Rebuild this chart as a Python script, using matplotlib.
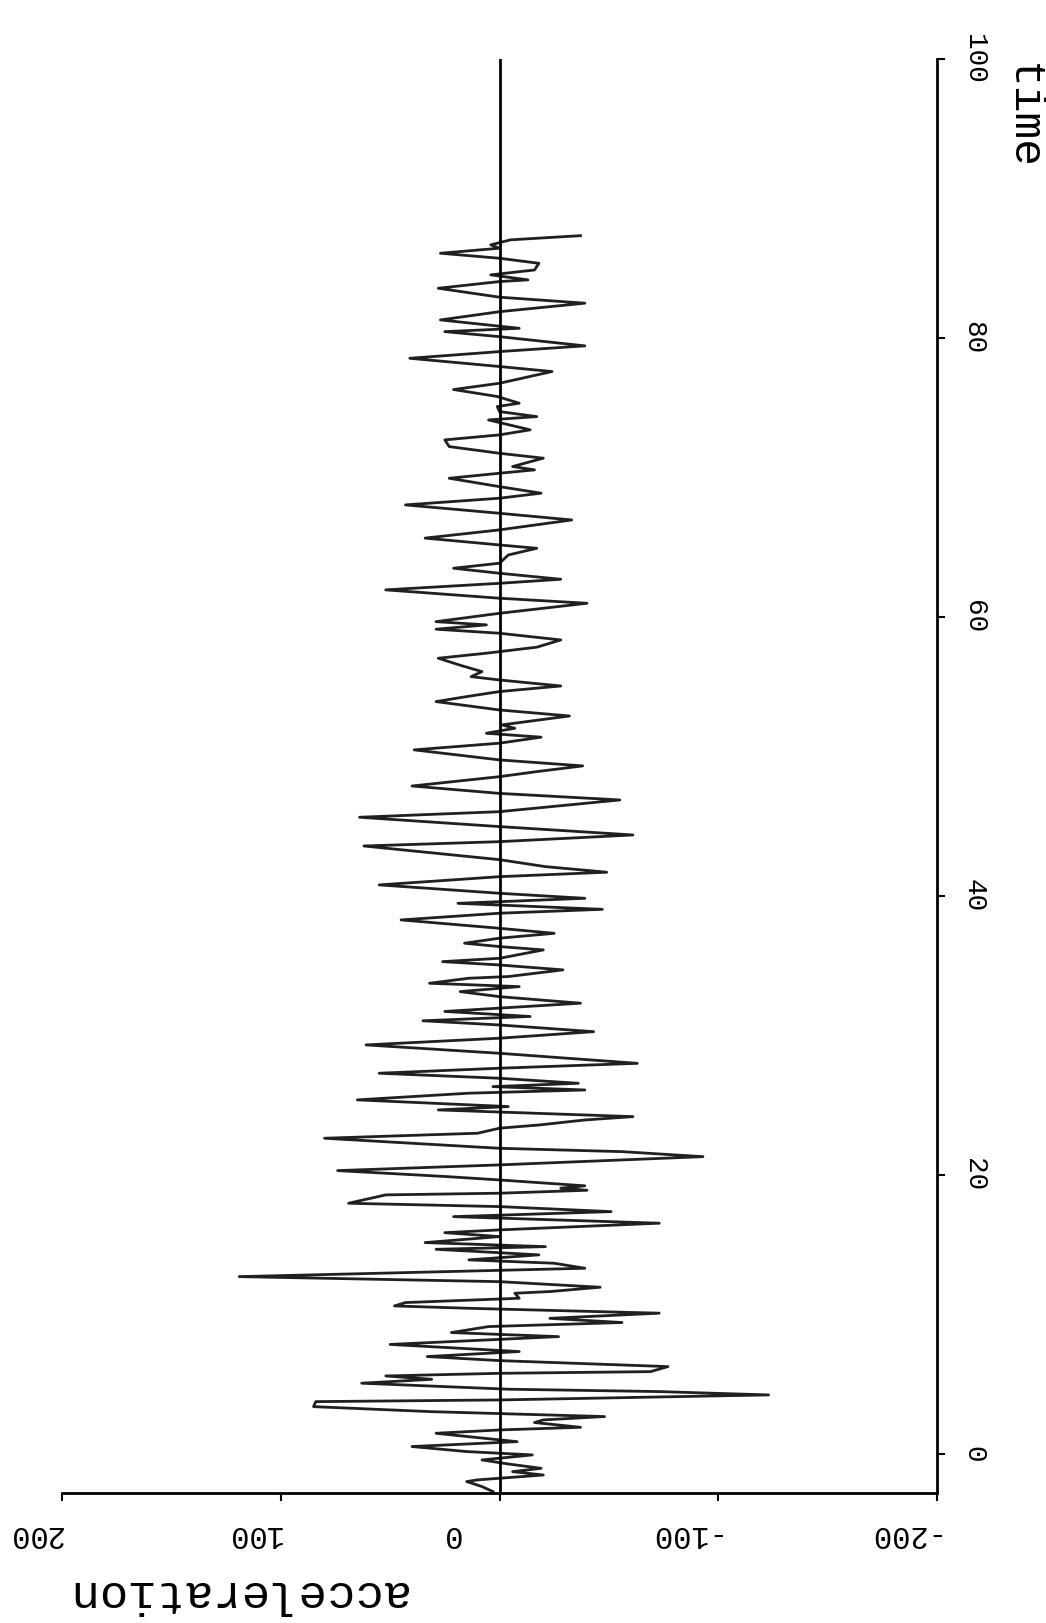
import matplotlib
matplotlib.use("Agg")
import matplotlib.pyplot as plt

# przebieg przyspieszenia (kolejne ekstrema)
time = [-2.70, -2.34, -1.98, -1.86, -1.51, -1.27, -1.03, -0.72, -0.43, -0.07,
        0.17, 0.53, 0.88, 1.24, 1.48, 1.72, 1.91, 2.25, 2.44, 2.68,
        3.03, 3.39, 3.75, 3.87, 4.23, 4.47, 4.64, 5.07, 5.35, 5.59,
        5.78, 5.90, 6.26, 6.69, 6.98, 7.34, 7.85, 8.41, 8.70, 9.13,
        9.42, 9.72, 10.09, 10.44, 10.61, 10.85, 11.16, 11.52, 11.64, 11.95,
        12.35, 12.71, 13.07, 13.31, 13.67, 13.91, 14.27, 14.67, 14.86, 15.15,
        15.58, 15.86, 16.06, 16.54, 17.01, 17.37, 17.73, 17.97, 18.57, 18.69,
        18.90, 19.05, 19.22, 19.64, 19.88, 20.31, 20.72, 21.08, 21.31, 21.67, 21.91,
        22.63, 22.99, 23.35, 23.58, 23.94, 24.18, 24.66, 24.90, 25.38, 25.86,
        26.09, 26.33, 26.57, 26.93, 27.29, 27.65, 28.00, 28.72, 29.32, 29.80,
        30.27, 30.75, 31.05, 31.36, 31.72, 32.31, 32.78, 33.14, 33.50, 33.74,
        34.10, 34.22, 34.70, 35.05, 35.29, 35.53, 36.13, 36.37, 36.61, 36.97,
        37.32, 37.68, 38.28, 38.76, 39.04, 39.35, 39.47, 39.83, 40.19, 40.79,
        41.38, 41.70, 42.10, 42.60, 43.58, 43.89, 44.37, 44.97, 45.64, 46.04,
        46.88, 47.35, 47.88, 48.55, 48.91, 49.32, 49.75, 50.47, 50.95, 51.38,
        51.66, 52.02, 52.26, 52.90, 53.33, 53.93, 54.29, 54.65, 55.05, 55.48,
        55.72, 56.08, 56.49, 57.04, 57.40, 57.83, 58.35, 58.83, 59.12, 59.43,
        59.66, 60.26, 60.98, 61.34, 61.94, 62.41, 62.70, 63.13, 63.49, 63.85,
        64.44, 64.92, 65.16, 65.65, 66.24, 66.95, 67.43, 68.03, 68.51, 68.87,
        69.34, 69.94, 70.30, 70.54, 70.78, 71.38, 71.73, 72.21, 72.69, 73.05,
        73.41, 74.12, 74.36, 74.72, 75.08, 75.32, 75.80, 76.30, 76.75, 77.59,
        77.95, 78.54, 79.02, 79.43, 80.09, 80.45, 80.69, 81.29, 81.88, 82.49,
        82.92, 83.56, 84.04, 84.16, 84.52, 84.87, 85.35, 85.71, 86.07, 86.43,
        86.67, 87.03, 87.33]
acceleration = [3, 8, 15, 10, -20, -6, -19, -4, 8, -15,
                15, 40, -8, 14, 29, 0, -37, -16, -20, -48,
                31, 85, 84, 0, -123, -73, -4, 63, 31, 52,
                0, -69, -77, 0, 33, -9, 50, -27, 22, 5,
                -56, -23, -73, 14, 48, 43, -9, -7, -23, -46,
                0, 119, 24, -39, -25, 14, -18, 29, -21, 34,
                0, 25, 0, -73, 21, -51, 0, 69, 52, 0,
                -40, -28, -39, 0, 24, 74, 0, -56, -93, -56, 0,
                80, 10, 0, -18, -39, -61, 28, -4, 65, 14,
                -39, 3, -36, 0, 55, 0, -63, 0, 61, 0,
                -43, 0, 35, -14, 25, -37, 0, 18, -9, 32,
                14, -4, -29, 0, 26, 0, -20, 0, 16, 0,
                -25, 0, 45, 0, -47, 0, 19, -39, 0, 55,
                0, -49, -21, 0, 62, 0, -61, 0, 64, 0,
                -55, 0, 40, 0, -17, -38, 0, 39, 0, -19,
                6, -7, -1, -32, 0, 29, 15, 0, -28, 0,
                13, 8, 17, 28, 6, -17, -28, 0, 29, 6,
                29, 0, -40, 0, 52, 0, -28, 0, 21, 0,
                -4, -17, 0, 34, 0, -33, 0, 43, 0, -19,
                0, 23, 0, -16, -6, -20, 0, 23, 25, 0,
                -14, 5, -17, 0, 1, -9, 1, 21, 0, -24,
                0, 41, 0, -39, 0, 25, -9, 27, 0, -39,
                0, 28, 0, -13, 4, -16, -18, 0, 27, 0,
                4, -5, -37]

time_ticks = [0, 20, 40, 60, 80, 100]
acc_ticks = [200, 100, 0, -100, -200]
acc_tick_labels = ["200", "100", "  0", "-100", "-200"]

plt.rcParams['font.family'] = ['Liberation Mono', 'DejaVu Sans Mono']

fig = plt.figure(figsize=(10.46, 16.23), dpi=100)
ax = fig.add_axes([0.0593, 0.0801, 0.8365, 0.8836])

# wykres obrocony: czas pionowo, przyspieszenie poziomo
ax.plot(acceleration, time, color='#202020', lw=2.0)
ax.axvline(0, color='black', lw=2.0)

ax.set_xlim(200, -200)
ax.set_ylim(-2.8, 100)

ax.spines['top'].set_visible(False)
ax.spines['left'].set_visible(False)
ax.spines['bottom'].set_linewidth(2)
ax.spines['right'].set_linewidth(2)

ax.yaxis.tick_right()
ax.set_yticks(time_ticks)
ax.set_yticklabels([str(v) for v in time_ticks], rotation=-90, va='center', fontsize=20)
ax.set_xticks(acc_ticks)
ax.set_xticklabels(acc_tick_labels, rotation=180, ha='right', fontsize=22)

ax.tick_params(axis='x', direction='out', length=6, width=1.5, pad=13)
ax.tick_params(axis='y', direction='out', length=6, width=1.5, pad=11)

fig.text(0.225, 0.0185, 'acceleration', rotation=180, ha='center', va='center', fontsize=34)
fig.text(0.977, 0.9285, 'time', rotation=-90, ha='center', va='center', fontsize=32)

fig.savefig('out.png', dpi=100)
